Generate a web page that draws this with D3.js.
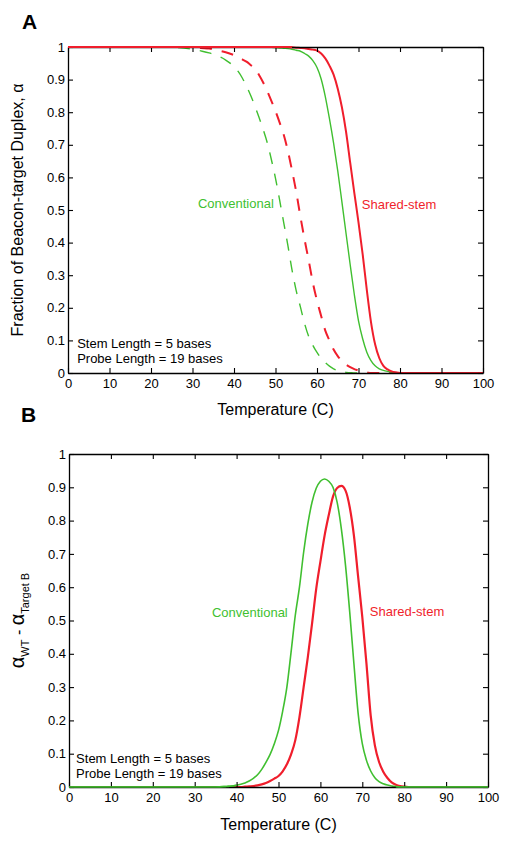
<!DOCTYPE html>
<html>
<head>
<meta charset="utf-8">
<script src="https://cdn.jsdelivr.net/npm/d3@7"></script>
<style>
  html, body { margin: 0; padding: 0; background: #fff; }
  svg { display: block; font-family: "Liberation Sans", Arial, Helvetica, sans-serif; }
</style>
</head>
<body>
<svg id="chart" width="513" height="843"></svg>
<script>
// ---------- Panel A data: fraction of beacon-target duplex vs temperature ----------
const tempsA = [0, 10, 20, 25, 30, 32, 34, 36, 38, 40, 41, 42, 43, 44, 45, 46, 47, 48, 49, 50,
  51, 52, 53, 54, 55, 56, 57, 58, 59, 60, 61, 62, 63, 64, 65, 66, 67, 68, 69, 70,
  71, 72, 73, 74, 75, 76, 77, 78, 79, 80, 90, 100];
const convSolidA = [1, 1, 1, 1, 1, 1, 1, 1, 1, 1, 1, 1, 1, 1, 1, 1, 1, 0.999, 0.999, 0.998,
  0.997, 0.996, 0.995, 0.993, 0.99, 0.987, 0.98, 0.972, 0.958, 0.937, 0.902, 0.848, 0.78, 0.705, 0.62, 0.525, 0.428, 0.332, 0.24, 0.16,
  0.105, 0.064, 0.038, 0.022, 0.013, 0.008, 0.005, 0.003, 0.001, 0, 0, 0];
const sharedSolidA = [1, 1, 1, 1, 1, 1, 1, 1, 1, 1, 1, 1, 1, 1, 1, 1, 1, 1, 1, 1,
  1, 1, 1, 0.999, 0.998, 0.997, 0.996, 0.994, 0.992, 0.989, 0.98, 0.965, 0.943, 0.915, 0.872, 0.815, 0.74, 0.645, 0.552, 0.462,
  0.365, 0.255, 0.157, 0.088, 0.046, 0.022, 0.011, 0.005, 0.002, 0, 0, 0];
const convDashA = [1, 1, 1, 0.999, 0.993, 0.988, 0.982, 0.973, 0.96, 0.94, 0.925, 0.905, 0.88, 0.852, 0.82, 0.785, 0.748, 0.707, 0.655, 0.597,
  0.53, 0.46, 0.39, 0.315, 0.252, 0.203, 0.152, 0.112, 0.085, 0.063, 0.045, 0.032, 0.021, 0.013, 0.007, 0.004, 0.002, 0.001, 0, 0,
  0, 0, 0, 0, 0, 0, 0, 0, 0, 0, 0, 0];
const sharedDashA = [1, 1, 1, 1, 1, 0.997, 0.995, 0.99, 0.984, 0.975, 0.97, 0.962, 0.955, 0.945, 0.935, 0.915, 0.892, 0.865, 0.835, 0.803,
  0.768, 0.73, 0.68, 0.62, 0.555, 0.48, 0.41, 0.345, 0.277, 0.222, 0.175, 0.13, 0.1, 0.072, 0.052, 0.037, 0.026, 0.018, 0.012, 0.008,
  0.004, 0.002, 0, 0, 0, 0, 0, 0, 0, 0, 0, 0];

// ---------- Panel B data: alpha_WT - alpha_TargetB vs temperature ----------
const tempsB = [0, 10, 20, 30, 35, 37, 38, 39, 40, 41, 42, 43, 44, 45, 46, 47, 48, 49, 50,
  51, 52, 53, 54, 55, 56, 57, 58, 59, 60, 61, 62, 63, 64, 65, 66, 67, 68, 69, 70,
  71, 72, 73, 74, 75, 76, 77, 78, 79, 80, 81, 90, 100];
const convB = [0, 0, 0, 0, 0, 0.001, 0.002, 0.003, 0.005, 0.008, 0.012, 0.018, 0.026, 0.037, 0.053, 0.074, 0.098, 0.13, 0.17,
  0.228, 0.3, 0.405, 0.515, 0.6, 0.705, 0.79, 0.855, 0.897, 0.918, 0.925, 0.918, 0.9, 0.855, 0.775, 0.665, 0.525, 0.37, 0.222, 0.13,
  0.08, 0.048, 0.028, 0.016, 0.01, 0.006, 0.003, 0.001, 0, 0, 0, 0, 0];
const sharedB = [0, 0, 0, 0, 0, 0, 0, 0, 0, 0, 0.001, 0.002, 0.003, 0.005, 0.008, 0.012, 0.018, 0.025, 0.033,
  0.047, 0.068, 0.098, 0.14, 0.21, 0.3, 0.39, 0.49, 0.595, 0.677, 0.755, 0.817, 0.872, 0.898, 0.904, 0.89, 0.84, 0.755, 0.632, 0.51,
  0.37, 0.215, 0.125, 0.075, 0.046, 0.027, 0.014, 0.007, 0.003, 0.001, 0, 0, 0];

// ---------- tick labels and texts ----------
const xTicks = [0, 10, 20, 30, 40, 50, 60, 70, 80, 90, 100];
const yTicks = [0, 0.1, 0.2, 0.3, 0.4, 0.5, 0.6, 0.7, 0.8, 0.9, 1];
const xTitle = "Temperature (C)";
const yTitleA = "Fraction of Beacon-target Duplex, \u03B1";
const seriesNames = ["Conventional", "Shared-stem"];
const noteLines = ["Stem Length = 5 bases", "Probe Length = 19 bases"];

const GREEN = "#40bf30";
const RED = "#f01e2c";
const FONT = "'Liberation Sans', Arial, Helvetica, sans-serif";

const svg = d3.select("#chart");
svg.append("rect").attr("width", 513).attr("height", 843).attr("fill", "#fff");

function drawFrame(g, x, y) {
  const [x0, x1] = x.range();
  const [y0, y1] = y.range();
  const fmtY = d => (d === 0 ? "0" : d === 1 ? "1" : d3.format(".1f")(d));
  g.append("g").attr("transform", `translate(0,${y0})`)
    .call(d3.axisBottom(x).tickValues(xTicks).tickSizeInner(-5).tickSizeOuter(0).tickPadding(6).tickFormat(d3.format("d")));
  g.append("g").attr("transform", `translate(0,${y1})`)
    .call(d3.axisTop(x).tickValues(xTicks).tickSizeInner(-5).tickSizeOuter(0).tickFormat(""));
  g.append("g").attr("transform", `translate(${x0},0)`)
    .call(d3.axisLeft(y).tickValues(yTicks).tickSizeInner(-5).tickSizeOuter(0).tickPadding(3).tickFormat(fmtY));
  g.append("g").attr("transform", `translate(${x1},0)`)
    .call(d3.axisRight(y).tickValues(yTicks).tickSizeInner(-5).tickSizeOuter(0).tickFormat(""));
  g.selectAll(".domain").attr("stroke", "#000").attr("stroke-width", 1.3);
  g.selectAll(".tick line").attr("stroke", "#000").attr("stroke-width", 1.1);
  g.selectAll(".tick text").attr("font-family", FONT).attr("font-size", 13).attr("fill", "#000");
}

function drawLine(g, x, y, temps, vals, color, width, dash) {
  const pts = temps.map((t, i) => [t, vals[i]]);
  const line = d3.line().x(d => x(d[0])).y(d => y(d[1])).curve(d3.curveMonotoneX);
  const p = g.append("path").datum(pts).attr("d", line)
    .attr("fill", "none").attr("stroke", color).attr("stroke-width", width)
    .attr("stroke-linejoin", "round");
  if (dash) p.attr("stroke-dasharray", dash);
}

function addText(g, x, y, t, a, str, color, size) {
  g.append("text").attr("x", x(t)).attr("y", y(a)).text(str)
    .attr("font-family", FONT).attr("font-size", size).attr("fill", color);
}

// ================= Panel A =================
const xA = d3.scaleLinear().domain([0, 100]).range([68, 483]);
const yA = d3.scaleLinear().domain([0, 1]).range([373, 47]);
const gA = svg.append("g");

drawLine(gA, xA, yA, tempsA, convDashA, GREEN, 1.4, "12,10");
drawLine(gA, xA, yA, tempsA, sharedDashA, RED, 2, "12,10");
drawLine(gA, xA, yA, tempsA, convSolidA, GREEN, 1.4, null);
drawLine(gA, xA, yA, tempsA, sharedSolidA, RED, 2, null);
drawFrame(gA, xA, yA);
// red curve lies on the top edge over the frame, as in the reference
gA.append("path").datum(tempsA.map((t, i) => [t, sharedSolidA[i]]))
  .attr("d", d3.line().x(d => xA(d[0])).y(d => yA(d[1])).curve(d3.curveMonotoneX).defined(d => d[0] <= 54))
  .attr("stroke", RED).attr("stroke-width", 2).attr("fill", "none");

addText(gA, xA, yA, 31.3, 0.506, seriesNames[0], GREEN, 13);
addText(gA, xA, yA, 70.8, 0.503, seriesNames[1], RED, 13);
addText(gA, xA, yA, 2.2, 0.078, noteLines[0], "#000", 13);
addText(gA, xA, yA, 2.2, 0.032, noteLines[1], "#000", 13);

gA.append("text").attr("x", (xA.range()[0] + xA.range()[1]) / 2).attr("y", 415)
  .attr("text-anchor", "middle").attr("font-family", FONT).attr("font-size", 16).text(xTitle);
gA.append("text").attr("transform", `translate(23,${(yA.range()[0] + yA.range()[1]) / 2}) rotate(-90)`)
  .attr("text-anchor", "middle").attr("font-family", FONT).attr("font-size", 16).text(yTitleA);
svg.append("text").attr("x", 22).attr("y", 29).attr("font-family", FONT)
  .attr("font-size", 21).attr("font-weight", "bold").text("A");

// ================= Panel B =================
const xB = d3.scaleLinear().domain([0, 100]).range([69, 488]);
const yB = d3.scaleLinear().domain([0, 1]).range([787, 454]);
const gB = svg.append("g");

drawLine(gB, xB, yB, tempsB, sharedB, RED, 2.2, null);
drawLine(gB, xB, yB, tempsB, convB, GREEN, 1.6, null);
drawFrame(gB, xB, yB);
// curves lie on the baseline over the frame
gB.append("path").datum(tempsB.map((t, i) => [t, convB[i]]))
  .attr("d", d3.line().x(d => xB(d[0])).y(d => yB(d[1])).curve(d3.curveMonotoneX).defined(d => d[0] <= 40 || d[0] >= 78))
  .attr("stroke", GREEN).attr("stroke-width", 1.6).attr("fill", "none");

addText(gB, xB, yB, 34.1, 0.51, seriesNames[0], GREEN, 13);
addText(gB, xB, yB, 71.8, 0.513, seriesNames[1], RED, 13);
addText(gB, xB, yB, 1.7, 0.072, noteLines[0], "#000", 13);
addText(gB, xB, yB, 1.7, 0.027, noteLines[1], "#000", 13);

gB.append("text").attr("x", (xB.range()[0] + xB.range()[1]) / 2).attr("y", 830)
  .attr("text-anchor", "middle").attr("font-family", FONT).attr("font-size", 16).text(xTitle);

const yt = gB.append("text")
  .attr("transform", `translate(24,${(yB.range()[0] + yB.range()[1]) / 2}) rotate(-90)`)
  .attr("text-anchor", "middle").attr("font-family", FONT).attr("font-size", 16);
yt.append("tspan").attr("font-size", 20).text("\u03B1");
yt.append("tspan").attr("font-size", 11).attr("dy", 5).text("WT");
yt.append("tspan").attr("font-size", 16).attr("dy", -5).text(" - ");
yt.append("tspan").attr("font-size", 20).text("\u03B1");
yt.append("tspan").attr("font-size", 11).attr("dy", 5).text("Target B");

svg.append("text").attr("x", 21).attr("y", 422).attr("font-family", FONT)
  .attr("font-size", 21).attr("font-weight", "bold").text("B");
</script>
</body>
</html>
